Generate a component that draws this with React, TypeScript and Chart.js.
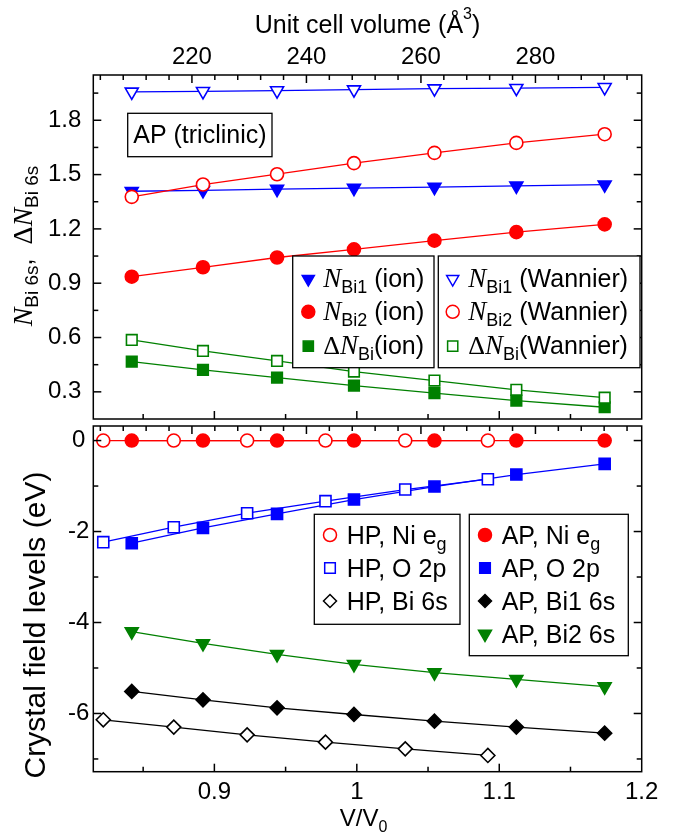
import React, { useEffect, useRef } from 'react';
import { Chart, registerables } from 'chart.js';

Chart.register(...registerables);

const SANS = '"Liberation Sans", Arial, Helvetica, sans-serif';
const SERIF = '"Liberation Serif", "Times New Roman", serif';

// ---------- data ----------
const V0 = 248.8; // unit cell volume (Å^3) at V/V0 = 1
const X_MIN = 0.815;
const X_MAX = 1.2;

const AP_X = [0.842, 0.892, 0.944, 0.998, 1.0545, 1.112, 1.174];
const HP_X = [0.822, 0.8715, 0.923, 0.978, 1.034, 1.092];

// upper panel: Bi 6s occupations
const N_BI1_ION = [1.408, 1.413, 1.42, 1.425, 1.431, 1.438, 1.444];
const N_BI2_ION = [0.936, 0.988, 1.042, 1.087, 1.135, 1.182, 1.225];
const DN_ION = [0.467, 0.421, 0.379, 0.334, 0.293, 0.252, 0.215];
const N_BI1_WAN = [1.957, 1.96, 1.964, 1.969, 1.975, 1.977, 1.982];
const N_BI2_WAN = [1.377, 1.445, 1.502, 1.563, 1.62, 1.675, 1.723];
const DN_WAN = [0.587, 0.526, 0.471, 0.412, 0.362, 0.311, 0.268];

// lower panel: crystal field levels (eV)
const HP_NI_EG = [0, 0, 0, 0, 0, 0];
const HP_O2P = [-2.234, -1.905, -1.597, -1.333, -1.077, -0.85];
const HP_BI6S = [-6.139, -6.3, -6.469, -6.63, -6.777, -6.923];
const AP_NI_EG = [0, 0, 0, 0, 0, 0, 0];
const AP_O2P = [-2.257, -1.92, -1.612, -1.297, -1.011, -0.747, -0.513];
const AP_BI1_6S = [-5.516, -5.699, -5.875, -6.022, -6.169, -6.3, -6.432];
const AP_BI2_6S = [-4.2, -4.46, -4.7, -4.92, -5.1, -5.25, -5.41];

// ticks
const TOP_Y_MIN = 0.15;
const TOP_Y_MAX = 2.05;
const BOT_Y_MIN = -7.28;
const BOT_Y_MAX = 0.32;
const TOP_Y_TICKS = [0.3, 0.6, 0.9, 1.2, 1.5, 1.8];
const TOP_Y_MINOR = [0.45, 0.75, 1.05, 1.35, 1.65, 1.95];
const BOT_Y_TICKS = [0, -2, -4, -6];
const BOT_Y_MINOR = [-1, -3, -5, -7];
const X_TICKS = [0.9, 1.0, 1.1, 1.2];
const X_MINOR = [0.85, 0.95, 1.05, 1.15];
const VOL_TICKS = [220, 240, 260, 280];
const VOL_MINOR = [204, 208, 212, 216, 224, 228, 232, 236, 244, 248, 252, 256, 264, 268, 272, 276, 284, 288, 292, 296];

// ---------- layout ----------
const W = 685;
const H = 838;
const PLOT_L = 93.3;
const PLOT_R = 641.7;
const TOP_T = 75;
const TOP_B = 419;
const BOT_T = 426;
const BOT_B = 771.7;

const RED = '#ff0000';
const BLUE = '#0000ff';
const GREEN = '#008000';
const BLACK = '#000000';

type Sym = 'circle' | 'square' | 'diamond' | 'tridown';

function ds(xs: number[], ys: number[], color: string, sym: Sym, filled: boolean, r: number) {
  const pointStyle = sym === 'tridown' ? 'triangle' : sym === 'diamond' ? 'rectRot' : sym === 'square' ? 'rect' : 'circle';
  return {
    data: xs.map((x, i) => ({ x, y: ys[i] })),
    borderColor: color,
    borderWidth: 1.3,
    pointStyle,
    pointRotation: sym === 'tridown' ? 180 : 0,
    pointRadius: r,
    pointBorderWidth: 1.6,
    pointBorderColor: color,
    pointBackgroundColor: filled ? color : '#ffffff',
    showLine: true,
    tension: 0,
    fill: false,
    clip: false as any,
    xAxisID: 'x',
    yAxisID: 'y',
  };
}

type Part = { t: string; f: string; dy?: number };

function drawRich(ctx: CanvasRenderingContext2D, parts: Part[], x: number, y: number, align: 'left' | 'center', rot = 0) {
  ctx.save();
  ctx.translate(x, y);
  ctx.rotate(rot);
  ctx.textBaseline = 'alphabetic';
  ctx.textAlign = 'left';
  ctx.fillStyle = '#000';
  let total = 0;
  const widths = parts.map((p) => {
    ctx.font = p.f;
    const w = ctx.measureText(p.t).width;
    total += w;
    return w;
  });
  let cx = align === 'center' ? -total / 2 : 0;
  parts.forEach((p, i) => {
    ctx.font = p.f;
    ctx.fillText(p.t, cx, p.dy || 0);
    cx += widths[i];
  });
  ctx.restore();
}

function drawSymbol(ctx: CanvasRenderingContext2D, sym: Sym, x: number, y: number, r: number, color: string, filled: boolean) {
  ctx.save();
  ctx.beginPath();
  if (sym === 'circle') ctx.arc(x, y, r, 0, Math.PI * 2);
  else if (sym === 'square') {
    const s = r * Math.SQRT1_2;
    ctx.rect(x - s, y - s, 2 * s, 2 * s);
  } else if (sym === 'diamond') {
    ctx.moveTo(x, y - r);
    ctx.lineTo(x + r, y);
    ctx.lineTo(x, y + r);
    ctx.lineTo(x - r, y);
    ctx.closePath();
  } else {
    ctx.moveTo(x - r * 0.866, y - r / 2);
    ctx.lineTo(x + r * 0.866, y - r / 2);
    ctx.lineTo(x, y + r);
    ctx.closePath();
  }
  ctx.fillStyle = filled ? color : '#ffffff';
  ctx.fill();
  ctx.lineWidth = 1.5;
  ctx.strokeStyle = color;
  ctx.stroke();
  ctx.restore();
}

function line(ctx: CanvasRenderingContext2D, x1: number, y1: number, x2: number, y2: number) {
  ctx.beginPath();
  ctx.moveTo(x1, y1);
  ctx.lineTo(x2, y2);
  ctx.stroke();
}

function drawFrame(chart: any, yMajor: number[], yMinor: number[]) {
  const { ctx, chartArea: a, scales } = chart;
  const xs = scales.x;
  const ys = scales.y;
  ctx.save();
  ctx.strokeStyle = '#000';
  ctx.lineWidth = 1.5;
  ctx.strokeRect(a.left, a.top, a.right - a.left, a.bottom - a.top);
  const MAJ = 8;
  const MIN = 5;
  const yt: [number[], number][] = [[yMajor, MAJ], [yMinor, MIN]];
  yt.forEach(([vals, len]) => {
    vals.forEach((v) => {
      const py = ys.getPixelForValue(v);
      if (py < a.top + 0.5 || py > a.bottom - 0.5) return;
      line(ctx, a.left, py, a.left + len, py);
      line(ctx, a.right, py, a.right - len, py);
    });
  });
  const xt: [number[], number][] = [[X_TICKS, MAJ], [X_MINOR, MIN]];
  xt.forEach(([vals, len]) => {
    vals.forEach((v) => {
      const px = xs.getPixelForValue(v);
      if (px < a.left + 0.5 || px > a.right - 0.5) return;
      line(ctx, px, a.bottom, px, a.bottom - len);
    });
  });
  const vt: [number[], number][] = [[VOL_TICKS, MAJ], [VOL_MINOR, MIN]];
  vt.forEach(([vals, len]) => {
    vals.forEach((v) => {
      const px = xs.getPixelForValue(v / V0);
      if (px < a.left + 0.5 || px > a.right - 0.5) return;
      line(ctx, px, a.top, px, a.top + len);
    });
  });
  ctx.restore();
}

function legendBox(ctx: CanvasRenderingContext2D, x1: number, y1: number, x2: number, y2: number) {
  ctx.save();
  ctx.fillStyle = '#ffffff';
  ctx.fillRect(x1, y1, x2 - x1, y2 - y1);
  ctx.strokeStyle = '#000';
  ctx.lineWidth = 1.3;
  ctx.strokeRect(x1, y1, x2 - x1, y2 - y1);
  ctx.restore();
}

const F = (size: number) => `${size}px ${SANS}`;
const FI = (size: number) => `italic ${size}px ${SERIF}`;
const FS = (size: number) => `${size}px ${SERIF}`;

const topDecor = {
  id: 'topDecor',
  afterDraw(chart: any) {
    const ctx: CanvasRenderingContext2D = chart.ctx;
    drawFrame(chart, TOP_Y_TICKS, TOP_Y_MINOR);

    // top axis title
    drawRich(ctx, [
      { t: 'Unit cell volume (Å', f: F(25) },
      { t: '3', f: F(16), dy: -14 },
      { t: ')', f: F(25) },
    ], (PLOT_L + PLOT_R) / 2, 33, 'center');

    // y axis title
    drawRich(ctx, [
      { t: 'N', f: FI(28) },
      { t: 'Bi 6s', f: F(19), dy: 6 },
      { t: ',  ', f: F(25) },
      { t: 'Δ', f: FS(28) },
      { t: 'N', f: FI(28) },
      { t: 'Bi 6s', f: F(19), dy: 6 },
    ], 32, 246, 'center', -Math.PI / 2);

    // AP (triclinic) label
    legendBox(ctx, 127.7, 113.3, 272, 156.7);
    drawRich(ctx, [{ t: 'AP (triclinic)', f: F(25) }], 199.9, 142.5, 'center');

    // legends
    legendBox(ctx, 292.7, 256, 434, 367.7);
    legendBox(ctx, 438.3, 256, 640, 367.7);
    const rows = [287, 320.3, 353.7];
    const lx = 308.3, ltx = 323.3, rx = 452.7, rtx = 468.3;
    drawSymbol(ctx, 'tridown', lx, rows[0] - 8, 7, BLUE, true);
    drawSymbol(ctx, 'circle', lx, rows[1] - 8.5, 6.5, RED, true);
    drawSymbol(ctx, 'square', lx, rows[2] - 7.5, 7.2, GREEN, true);
    drawSymbol(ctx, 'tridown', rx, rows[0] - 8, 7, BLUE, false);
    drawSymbol(ctx, 'circle', rx, rows[1] - 8.5, 6.5, RED, false);
    drawSymbol(ctx, 'square', rx, rows[2] - 7.5, 7.2, GREEN, false);
    const NP = (sub: string, tail: string): Part[] => [
      { t: 'N', f: FI(27) },
      { t: sub, f: F(18), dy: 6 },
      { t: tail, f: F(25) },
    ];
    const DP = (tail: string): Part[] => [
      { t: 'Δ', f: FS(26) },
      { t: 'N', f: FI(27) },
      { t: 'Bi', f: F(18), dy: 6 },
      { t: tail, f: F(25) },
    ];
    drawRich(ctx, NP('Bi1', ' (ion)'), ltx, rows[0], 'left');
    drawRich(ctx, NP('Bi2', ' (ion)'), ltx, rows[1], 'left');
    drawRich(ctx, DP('(ion)'), ltx, rows[2], 'left');
    drawRich(ctx, NP('Bi1', ' (Wannier)'), rtx, rows[0], 'left');
    drawRich(ctx, NP('Bi2', ' (Wannier)'), rtx, rows[1], 'left');
    drawRich(ctx, DP('(Wannier)'), rtx, rows[2], 'left');
  },
};

const botDecor = {
  id: 'botDecor',
  afterDraw(chart: any) {
    const ctx: CanvasRenderingContext2D = chart.ctx;
    drawFrame(chart, BOT_Y_TICKS, BOT_Y_MINOR);

    drawRich(ctx, [{ t: 'Crystal field levels (eV)', f: F(30) }], 45, 625, 'center', -Math.PI / 2);
    drawRich(ctx, [
      { t: 'V/V', f: F(24) },
      { t: '0', f: F(16), dy: 6 },
    ], (PLOT_L + PLOT_R) / 2 - 4, 826, 'center');

    legendBox(ctx, 314.3, 514.3, 460, 624.3);
    legendBox(ctx, 469.3, 514.3, 628.3, 655.7);
    const rows = [544, 577, 610, 643];
    const lx = 330, ltx = 346.7, rx = 485, rtx = 501.7;
    drawSymbol(ctx, 'circle', lx, rows[0] - 9, 6.5, RED, false);
    drawSymbol(ctx, 'square', lx, rows[1] - 9, 7.5, BLUE, false);
    drawSymbol(ctx, 'diamond', lx, rows[2] - 9, 6.5, BLACK, false);
    drawSymbol(ctx, 'circle', rx, rows[0] - 9, 6.5, RED, true);
    drawSymbol(ctx, 'square', rx, rows[1] - 9, 7.5, BLUE, true);
    drawSymbol(ctx, 'diamond', rx, rows[2] - 9, 6.5, BLACK, true);
    drawSymbol(ctx, 'tridown', rx, rows[3] - 9, 7.5, GREEN, true);
    drawRich(ctx, [{ t: 'HP, Ni e', f: F(25) }, { t: 'g', f: F(18), dy: 6 }], ltx, rows[0], 'left');
    drawRich(ctx, [{ t: 'HP, O 2p', f: F(25) }], ltx, rows[1], 'left');
    drawRich(ctx, [{ t: 'HP, Bi 6s', f: F(25) }], ltx, rows[2], 'left');
    drawRich(ctx, [{ t: 'AP, Ni e', f: F(25) }, { t: 'g', f: F(18), dy: 6 }], rtx, rows[0], 'left');
    drawRich(ctx, [{ t: 'AP, O 2p', f: F(25) }], rtx, rows[1], 'left');
    drawRich(ctx, [{ t: 'AP, Bi1 6s', f: F(25) }], rtx, rows[2], 'left');
    drawRich(ctx, [{ t: 'AP, Bi2 6s', f: F(25) }], rtx, rows[3], 'left');
  },
};

const tickFont = { family: SANS, size: 24 };

function topConfig(): any {
  return {
    type: 'line',
    data: {
      datasets: [
        ds(AP_X, N_BI1_WAN, BLUE, 'tridown', false, 7.5),
        ds(AP_X, N_BI2_WAN, RED, 'circle', false, 6.5),
        ds(AP_X, N_BI1_ION, BLUE, 'tridown', true, 7.5),
        ds(AP_X, N_BI2_ION, RED, 'circle', true, 6.5),
        ds(AP_X, DN_WAN, GREEN, 'square', false, 7.5),
        ds(AP_X, DN_ION, GREEN, 'square', true, 7.5),
      ],
    },
    options: {
      animation: false,
      responsive: false,
      maintainAspectRatio: false,
      events: [],
      layout: { padding: { left: 0, top: 0, right: W - PLOT_R, bottom: H - TOP_B } },
      plugins: { legend: { display: false }, tooltip: { enabled: false } },
      scales: {
        x: { type: 'linear', min: X_MIN, max: X_MAX, display: false },
        x2: {
          type: 'linear',
          position: 'top',
          min: X_MIN * V0,
          max: X_MAX * V0,
          afterBuildTicks: (s: any) => { s.ticks = VOL_TICKS.map((v) => ({ value: v })); },
          afterFit: (s: any) => { s.height = TOP_T; },
          grid: { display: false, drawTicks: false },
          border: { display: false },
          ticks: { font: tickFont, color: '#000', padding: 3, autoSkip: false, maxRotation: 0, callback: (v: any) => String(v) },
        },
        y: {
          type: 'linear',
          min: TOP_Y_MIN,
          max: TOP_Y_MAX,
          afterBuildTicks: (s: any) => { s.ticks = TOP_Y_TICKS.map((v) => ({ value: v })); },
          afterFit: (s: any) => { s.width = PLOT_L; },
          grid: { display: false, drawTicks: false },
          border: { display: false },
          ticks: { font: tickFont, color: '#000', padding: 12, autoSkip: false, callback: (v: any) => Number(v).toFixed(1) },
        },
      },
    },
    plugins: [topDecor],
  };
}

function botConfig(): any {
  return {
    type: 'line',
    data: {
      datasets: [
        ds(HP_X, HP_NI_EG, RED, 'circle', false, 6.5),
        ds(AP_X, AP_NI_EG, RED, 'circle', true, 6.5),
        ds(HP_X, HP_O2P, BLUE, 'square', false, 7.8),
        ds(AP_X, AP_O2P, BLUE, 'square', true, 7.8),
        ds(AP_X, AP_BI2_6S, GREEN, 'tridown', true, 7.5),
        ds(AP_X, AP_BI1_6S, BLACK, 'diamond', true, 7),
        ds(HP_X, HP_BI6S, BLACK, 'diamond', false, 7),
      ],
    },
    options: {
      animation: false,
      responsive: false,
      maintainAspectRatio: false,
      events: [],
      layout: { padding: { left: 0, top: BOT_T, right: W - PLOT_R, bottom: 0 } },
      plugins: { legend: { display: false }, tooltip: { enabled: false } },
      scales: {
        x: {
          type: 'linear',
          position: 'bottom',
          min: X_MIN,
          max: X_MAX,
          afterBuildTicks: (s: any) => { s.ticks = X_TICKS.map((v) => ({ value: v })); },
          afterFit: (s: any) => { s.height = H - BOT_B; },
          grid: { display: false, drawTicks: false },
          border: { display: false },
          ticks: { font: tickFont, color: '#000', padding: 6, autoSkip: false, maxRotation: 0, callback: (v: any) => (Number(v) === 1 ? '1' : Number(v).toFixed(1)) },
        },
        y: {
          type: 'linear',
          min: BOT_Y_MIN,
          max: BOT_Y_MAX,
          afterBuildTicks: (s: any) => { s.ticks = BOT_Y_TICKS.map((v) => ({ value: v })); },
          afterFit: (s: any) => { s.width = PLOT_L; },
          grid: { display: false, drawTicks: false },
          border: { display: false },
          ticks: { font: tickFont, color: '#000', padding: 4, crossAlign: 'center', autoSkip: false, callback: (v: any) => String(v) },
        },
      },
    },
    plugins: [botDecor],
  };
}

export default function App() {
  const topRef = useRef<HTMLCanvasElement>(null);
  const botRef = useRef<HTMLCanvasElement>(null);
  useEffect(() => {
    const c1 = new Chart(topRef.current as HTMLCanvasElement, topConfig());
    const c2 = new Chart(botRef.current as HTMLCanvasElement, botConfig());
    return () => {
      c1.destroy();
      c2.destroy();
    };
  }, []);
  const cs: React.CSSProperties = { position: 'absolute', left: 0, top: 0, width: W, height: H };
  return (
    <div style={{ position: 'absolute', left: 0, top: 0, width: W, height: H, background: '#ffffff' }}>
      <canvas ref={topRef} width={W} height={H} style={cs} />
      <canvas ref={botRef} width={W} height={H} style={cs} />
    </div>
  );
}
